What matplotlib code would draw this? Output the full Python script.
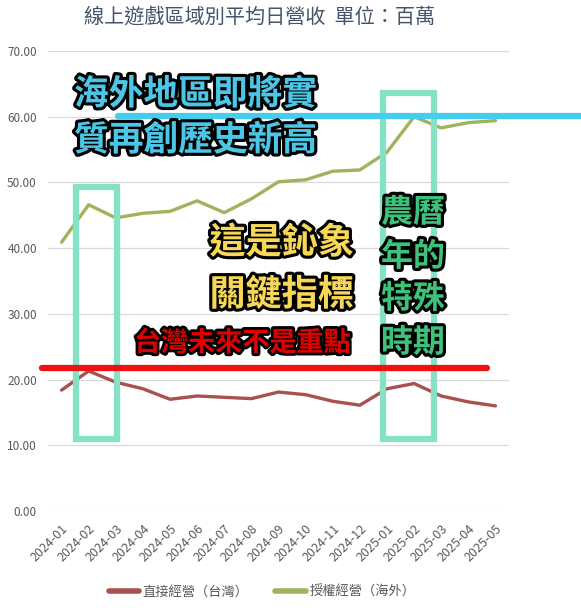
import matplotlib
matplotlib.use("Agg")
import matplotlib.pyplot as plt
import matplotlib.patheffects as pe
from matplotlib.patches import Rectangle

plt.rcParams['font.family'] = ['Noto Sans CJK TC', 'DejaVu Sans']

months = ["2024-01", "2024-02", "2024-03", "2024-04", "2024-05", "2024-06",
          "2024-07", "2024-08", "2024-09", "2024-10", "2024-11", "2024-12",
          "2025-01", "2025-02", "2025-03", "2025-04", "2025-05"]
taiwan = [18.4, 21.3, 19.6, 18.6, 17.0, 17.5, 17.3, 17.1, 18.1, 17.7, 16.7, 16.1,
          18.6, 19.4, 17.5, 16.6, 16.0]
overseas = [40.9, 46.6, 44.6, 45.3, 45.6, 47.2, 45.4, 47.5, 50.1, 50.4, 51.7, 51.9,
            54.6, 60.0, 58.3, 59.1, 59.4]
series_names = ["直接經營（台灣）", "授權經營（海外）"]
title = "線上遊戲區域別平均日營收  單位：百萬"
yticks = [0, 10, 20, 30, 40, 50, 60, 70]

W, H = 581, 613
fig = plt.figure(figsize=(W / 100, H / 100), dpi=100)
ax = fig.add_axes([48 / W, 102 / H, (509 - 48) / W, (562 - 102) / H])

x = list(range(len(months)))
ax.plot(x, taiwan, color="#a8524f", lw=2.4, label=series_names[0], solid_capstyle='round', zorder=3)
ax.plot(x, overseas, color="#9db35c", lw=2.4, label=series_names[1], solid_capstyle='round', zorder=3)

ax.set_xlim(-0.5, len(months) - 0.5)
ax.set_ylim(0, 70)
ax.set_yticks(yticks)
ax.set_yticklabels([f"{v:.2f}" for v in yticks], fontsize=8.5, color="#595959")
ax.set_xticks(x)
ax.set_xticklabels(months, rotation=45, ha='right', rotation_mode='anchor',
                   fontsize=9, color="#595959")
ax.tick_params(axis='y', length=0, pad=8)
ax.tick_params(axis='x', length=0, pad=8)
ax.grid(axis='y', color="#d9d9d9", lw=0.9)
ax.set_axisbelow(True)
for s in ax.spines.values():
    s.set_visible(False)

fig.text(260 / W, 1 - 17 / H, title, ha='center', va='center', fontsize=14.5, color="#44546a")

leg = fig.legend(loc='center', bbox_to_anchor=(262 / W, 1 - 592 / H), ncol=2, frameon=False,
                 fontsize=9.5, handlelength=2.3, columnspacing=2.0, handletextpad=0.3)
for t in leg.get_texts():
    t.set_color("#595959")
for l in leg.get_lines():
    l.set_linewidth(4)

# annotation shapes (data coordinates)
rect_color = "#86e2c4"
ax.add_patch(Rectangle((0.53, 11.0), 1.51, 38.3, fill=False, ec=rect_color, lw=4.5, zorder=4))
ax.add_patch(Rectangle((11.85, 10.9), 1.88, 52.7, fill=False, ec=rect_color, lw=4.5, zorder=4))
ax.plot([2.08, 19.2], [60.1, 60.1], color="#45cdf0", lw=4.5, solid_capstyle='round',
        clip_on=False, zorder=5)
ax.plot([-0.72, 15.7], [21.7, 21.7], color="#ee1111", lw=4.5, solid_capstyle='round',
        clip_on=False, zorder=5)

def outlined(xp, yp, s, size, color, ha='left', sw=4.5):
    t = fig.text(xp / W, 1 - yp / H, s, ha=ha, va='center', fontsize=size,
                 fontweight='heavy', color=color, zorder=10)
    t.set_path_effects([pe.Stroke(linewidth=sw, foreground='black'), pe.Normal()])
    return t

cyan = "#4cc6e6"
outlined(74, 94, "海外地區即將實", 25, cyan)
outlined(74, 140, "質再創歷史新高", 25, cyan)

yellow = "#f7d758"
outlined(354, 243, "這是鈊象", 26, yellow, ha='right')
outlined(354, 295, "關鍵指標", 26, yellow, ha='right')

outlined(351, 343, "台灣未來不是重點", 19.5, "#e00000", ha='right', sw=4)

green = "#3cc27a"
for i, s in enumerate(["農曆", "年的", "特殊", "時期"]):
    outlined(381, [213, 257, 299, 343][i], s, 23, green)

fig.savefig("out.png", dpi=100)
